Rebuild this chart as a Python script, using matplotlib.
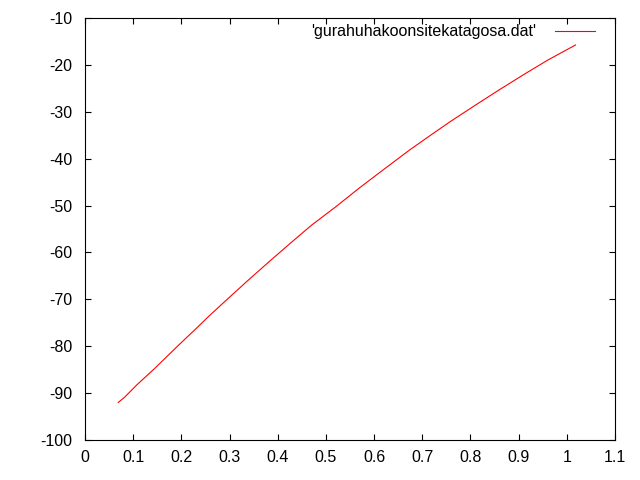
import matplotlib
matplotlib.use('Agg')
import matplotlib.pyplot as plt

plt.rcParams.update({'font.family': 'Liberation Sans', 'font.size': 11.5,
                     'axes.unicode_minus': False})

# values
x_vals = [0.069, 0.083, 0.107, 0.145, 0.195, 0.232, 0.257, 0.294, 0.34, 0.384,
          0.43, 0.47, 0.52, 0.57, 0.62, 0.673, 0.72, 0.758, 0.81, 0.86,
          0.91, 0.96, 1.018]
y_vals = [-92.0, -90.8, -88.3, -84.7, -79.7, -76.1, -73.6, -70.1, -65.8, -61.8,
          -57.7, -54.2, -50.3, -46.2, -42.3, -38.2, -34.8, -32.1, -28.6, -25.3,
          -22.1, -19.0, -15.76]
x_ticks = [0, 0.1, 0.2, 0.3, 0.4, 0.5, 0.6, 0.7, 0.8, 0.9, 1, 1.1]
y_ticks = [-100, -90, -80, -70, -60, -50, -40, -30, -20, -10]
label = "'gurahuhakoonsitekatagosa.dat'"

fig = plt.figure(figsize=(6.4, 4.8), dpi=100)
ax = fig.add_axes([85 / 640, 40 / 480, 530 / 640, 422 / 480])

ax.plot(x_vals, y_vals, color='#ff0000', linewidth=0.8, label=label)

ax.set_xlim(0, 1.1)
ax.set_ylim(-100, -10)
ax.set_xticks(x_ticks)
ax.set_xticklabels([f'{t:g}' for t in x_ticks])
ax.set_yticks(y_ticks)
ax.tick_params(direction='in', length=4, width=0.8, top=True, right=True)
ax.tick_params(axis='x', pad=7)
ax.tick_params(axis='y', pad=9)
for s in ax.spines.values():
    s.set_linewidth(0.8)

ax.legend(loc='upper right', bbox_to_anchor=(0.974, 1.0), frameon=False,
          handlelength=2.5, markerfirst=False, borderaxespad=0,
          handletextpad=1.15)

fig.savefig('out.png', dpi=100)
